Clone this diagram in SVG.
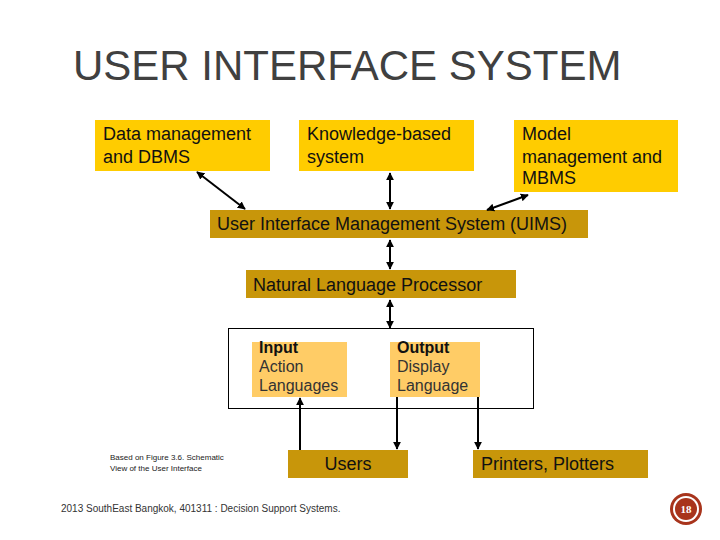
<svg xmlns="http://www.w3.org/2000/svg" width="720" height="540" viewBox="0 0 720 540">
<style>
text{font-family:"Liberation Sans",Arial,sans-serif;fill:#111}
.top{fill:#FFCC00}
.dark{fill:#C8960A}
.light{fill:#FFCC66}
.t18{font-size:18px}
.t16{font-size:16px}
.conn{stroke:#000;stroke-width:2;fill:none}
</style>
<defs>
<marker id="ah" viewBox="0 0 10 10" refX="9" refY="5" markerWidth="4" markerHeight="4" orient="auto-start-reverse">
<path d="M0,0 L10,5 L0,10 z" fill="#000"/>
</marker>
</defs>
<rect width="720" height="540" fill="#fff"/>
<text x="73" y="80" style="font-size:42px;fill:#404040">USER INTERFACE SYSTEM</text>

<g id="dbms">
<rect class="top" x="95" y="120" width="175" height="51"/>
<text class="t18" x="103" y="140">Data management</text>
<text class="t18" x="103" y="163">and DBMS</text>
</g>
<g id="kbs">
<rect class="top" x="299" y="120" width="175" height="51"/>
<text class="t18" x="307" y="140">Knowledge-based</text>
<text class="t18" x="307" y="163">system</text>
</g>
<g id="mbms">
<rect class="top" x="514" y="120" width="164" height="72"/>
<text class="t18" x="522" y="140">Model</text>
<text class="t18" x="522" y="163">management and</text>
<text class="t18" x="522" y="184">MBMS</text>
</g>
<g id="uims">
<rect class="dark" x="210" y="210" width="378" height="28"/>
<text class="t18" x="217" y="230">User Interface Management System (UIMS)</text>
</g>
<g id="nlp">
<rect class="dark" x="246" y="270" width="270" height="28"/>
<text class="t18" x="253" y="291">Natural Language Processor</text>
</g>
<g id="frame">
<rect x="228.5" y="328.5" width="305" height="80" fill="#fff" stroke="#000" stroke-width="1"/>
</g>
<g id="input">
<rect class="light" x="252" y="342" width="95" height="55"/>
<text class="t16" x="259" y="353" font-weight="bold">Input</text>
<text class="t16" x="259" y="372" style="fill:#333">Action</text>
<text class="t16" x="259" y="391" style="fill:#333">Languages</text>
</g>
<g id="output">
<rect class="light" x="390" y="342" width="90" height="55"/>
<text class="t16" x="397" y="353" font-weight="bold">Output</text>
<text class="t16" x="397" y="372" style="fill:#333">Display</text>
<text class="t16" x="397" y="391" style="fill:#333">Language</text>
</g>
<g id="users">
<rect class="dark" x="288" y="450" width="120" height="28"/>
<text class="t18" x="348" y="470" text-anchor="middle">Users</text>
</g>
<g id="printers">
<rect class="dark" x="473" y="450" width="175" height="28"/>
<text class="t18" x="481" y="470">Printers, Plotters</text>
</g>

<g id="connectors">
<line class="conn" x1="197" y1="172" x2="245" y2="209" marker-start="url(#ah)" marker-end="url(#ah)"/>
<line class="conn" x1="390" y1="173" x2="390" y2="209" marker-start="url(#ah)" marker-end="url(#ah)"/>
<line class="conn" x1="528" y1="195" x2="487" y2="210" marker-start="url(#ah)" marker-end="url(#ah)"/>
<line class="conn" x1="390" y1="240" x2="390" y2="269" marker-start="url(#ah)" marker-end="url(#ah)"/>
<line class="conn" x1="390" y1="300" x2="390" y2="328" marker-start="url(#ah)" marker-end="url(#ah)"/>
<line class="conn" x1="300" y1="450" x2="300" y2="398" marker-end="url(#ah)"/>
<line class="conn" x1="397" y1="397" x2="397" y2="449" marker-end="url(#ah)"/>
<line class="conn" x1="478" y1="397" x2="478" y2="449" marker-end="url(#ah)"/>
</g>

<text x="110" y="460" style="font-size:8px;fill:#222">Based on Figure 3.6.  Schematic</text>
<text x="110" y="471" style="font-size:8px;fill:#222">View of the User Interface</text>
<text x="61" y="512" style="font-size:10px;fill:#333">2013 SouthEast Bangkok, 401311 : Decision Support Systems.</text>

<g id="badge">
<circle cx="686" cy="509" r="16" fill="#A8341C"/>
<circle cx="686" cy="509" r="13" fill="#fff"/>
<circle cx="686" cy="509" r="11" fill="#A8341C"/>
<text x="686" y="513" text-anchor="middle" style="font-family:'Liberation Serif',serif;font-size:11px;font-weight:bold;fill:#fff">18</text>
</g>
</svg>
